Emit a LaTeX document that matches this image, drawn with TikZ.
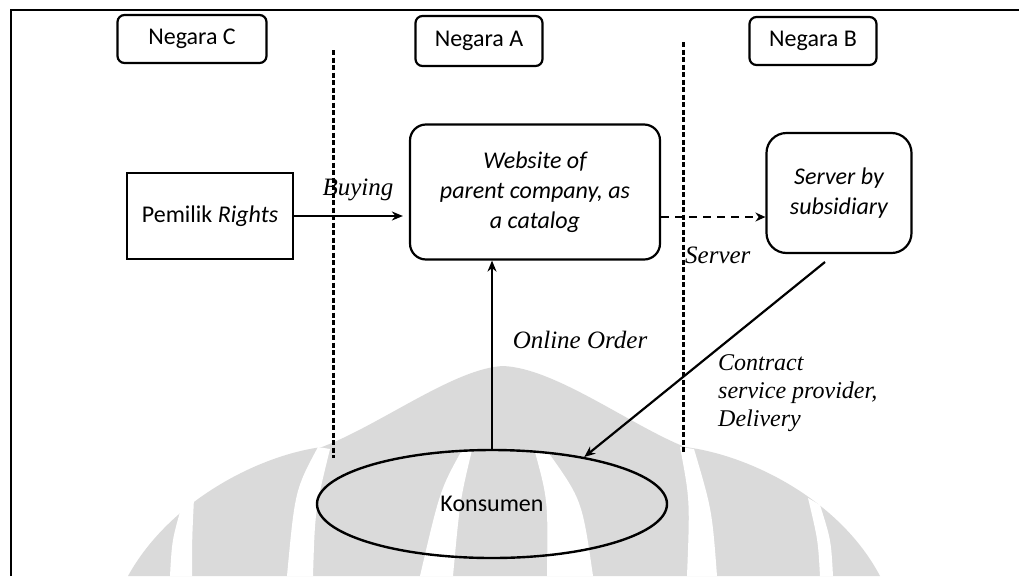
\documentclass[tikz,border=0pt]{standalone}
\usepackage{fontspec}
\setmainfont{Carlito}
\newfontfamily\notefont{Liberation Serif}
\usetikzlibrary{arrows.meta,shapes.geometric}
\definecolor{wm}{RGB}{218,218,218}

\begin{document}
\begin{tikzpicture}[x=1pt,y=-1pt,
  lbl/.style={font=\fontsize{24}{30}\selectfont, inner sep=0pt},
  country/.style={lbl, draw, line width=2.2pt, rounded corners=7pt},
  entity/.style={lbl, draw, line width=2.2pt, align=center},
  note/.style={inner sep=0pt, font=\notefont\itshape\fontsize{24}{28}\selectfont},
  border/.style={line width=3pt, dash pattern=on 5pt off 2.5pt},
  flow/.style={line width=2.2pt, -{Stealth[length=11pt,width=9pt]}},
  dflow/.style={line width=2.4pt, dash pattern=on 8pt off 6pt, -{Stealth[length=10pt,width=9pt,open]}},
]
\useasboundingbox (0,0) rectangle (1019,576);

% faint emblem in the background
\fill[wm] (128,576) .. controls (170,500) and (260,455) .. (322,447)
  .. controls (380,425) and (455,368) .. (503,366)
  .. controls (555,368) and (630,425) .. (685,447)
  .. controls (750,455) and (840,500) .. (880,576) -- cycle;
\fill[white] (462,450) .. controls (440,490) .. (420,576) -- (453,576) .. controls (460,500) .. (472,450) -- cycle;
\fill[white] (535,452) .. controls (548,500) .. (547,576) -- (593,576) .. controls (582,500) .. (548,452) -- cycle;
\fill[white] (318,447) .. controls (295,490) .. (287,576) -- (313,576) .. controls (315,510) .. (330,449) -- cycle;
\fill[white] (680,447) .. controls (690,500) .. (687,576) -- (717,576) .. controls (712,510) .. (694,449) -- cycle;
\fill[white] (182,505) .. controls (172,540) .. (170,576) -- (192,576) .. controls (192,540) .. (194,498) -- cycle;
\fill[white] (808,498) .. controls (818,540) .. (820,576) -- (833,576) .. controls (831,540) .. (820,505) -- cycle;

% frame
\draw[line width=1.8pt] (11,576) -- (11,10) -- (1019,10);

% country headings
\node[country, minimum width=149pt, minimum height=48pt] (negC) at (192,39) {Negara C};
\node[country, minimum width=127pt, minimum height=50pt] (negA) at (479,41) {Negara A};
\node[country, minimum width=127pt, minimum height=48pt] (negB) at (813,41) {Negara B};

% borders between countries
\coordinate (b1top) at (333,50);
\coordinate (b1bot) at (333,458);
\coordinate (b2top) at (683,42);
\coordinate (b2bot) at (683,453);
\draw[border] (b1top) -- (b1bot);
\draw[border] (b2top) -- (b2bot);

% parties
\node[entity, minimum width=166pt, minimum height=86pt] (pem) at (210,216) {Pemilik \textit{Rights}};
\node[entity, rounded corners=16pt, minimum width=250pt, minimum height=135pt, font=\itshape\fontsize{24}{30}\selectfont]
  (web) at (535,192) {Website of\\parent company, as\\a catalog};
\node[entity, rounded corners=20pt, minimum width=145pt, minimum height=120pt, font=\itshape\fontsize{24}{30}\selectfont]
  (srv) at (839,193) {Server by\\subsidiary};
\node[lbl, draw, ellipse, line width=2.4pt, minimum width=350pt, minimum height=108pt] (kon) at (492,504) {Konsumen};

% flows
\draw[flow, shorten >=6pt] (pem) -- (pem -| web.west);
\node[note, font=\notefont\itshape\fontsize{25}{28}\selectfont] (buy) at (358,190) {Buying};

\coordinate (srvline) at (0,217);
\draw[dflow] (web.east |- srvline) -- (srv.west |- srvline);
\node[note, font=\notefont\itshape\fontsize{25}{28}\selectfont, anchor=west] (srvlbl) at (685,255) {Server};

\draw[flow] (kon.north) -- (kon.north |- web.south);
\node[note, font=\notefont\itshape\fontsize{25}{28}\selectfont] (ord) at (580,340) {Online Order};

\coordinate (ctail) at (825,262);
\draw[flow] (ctail) -- (kon.27);
\node[note, anchor=north west, align=left] (contract) at (718,354) {Contract\\service provider,\\Delivery};
\end{tikzpicture}
\end{document}
